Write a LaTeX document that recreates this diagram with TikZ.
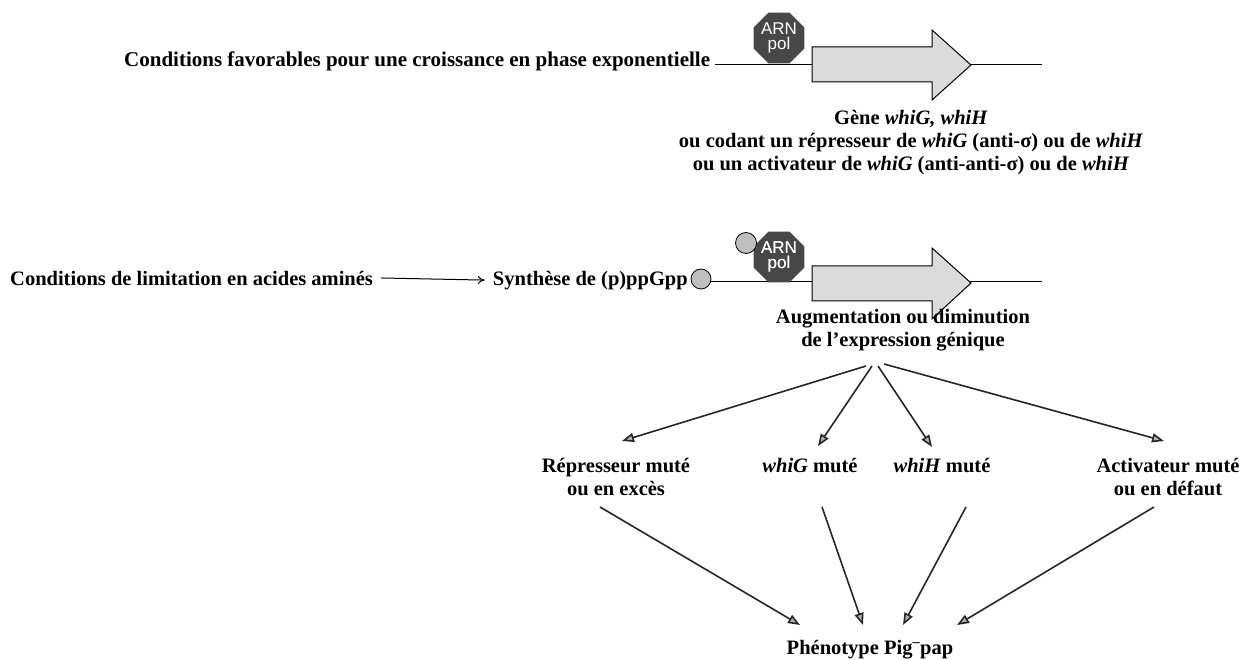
\documentclass[tikz,border=0pt]{standalone}
\usepackage{fontspec}
\setmainfont{Liberation Serif}
\newfontfamily\arialfont{Liberation Sans}
\usetikzlibrary{shapes.geometric,arrows.meta,calc}
\begin{document}
\begin{tikzpicture}[x=1pt,y=-1pt,
  lbl/.style={font=\fontsize{20.5}{23}\selectfont\bfseries, inner sep=0pt, align=center},
  conn/.style={line width=1.6pt, draw=black!85, -{Triangle[length=12pt,width=9pt,fill=gray!60]}},
  thin/.style={line width=1pt, draw=black},
  pol/.style={regular polygon, regular polygon sides=8, fill=black!72, minimum size=54pt, inner sep=0pt, text=white, font=\arialfont\fontsize{17}{15}\selectfont, align=center},
  gene/.style={draw=black, line width=1pt, fill=gray!28},
  dot/.style={circle, draw=black, fill=gray!50, minimum size=20pt, inner sep=0pt, line width=0.8pt}
]
\useasboundingbox (0,0) rectangle (1242,660);

% ---------- row 1
\node[lbl, font=\fontsize{21}{23}\selectfont\bfseries, anchor=base west] (cond1) at (124,67) {Conditions favorables pour une croissance en phase exponentielle};
\coordinate (l1e) at (1042,65);
\draw[thin] ($(cond1.base east)+(5,-2)$) -- (l1e);
\draw[gene] (812,47) -- (932,47) -- (932,30) -- (971,65) -- (932,100) -- (932,82) -- (812,82) -- cycle;
\node[pol] (pol1) at (779,38) {ARN\\pol};
\node[lbl, anchor=north] (gene1) at (911,110) {Gène \textit{whiG, whiH}\\
ou codant un répresseur de \textit{whiG} (anti-σ) ou de \textit{whiH}\\
ou un activateur de \textit{whiG} (anti-anti-σ) ou de \textit{whiH}};

% ---------- row 2
\node[lbl, anchor=base west] (cond2) at (10,286) {Conditions de limitation en acides aminés};
\node[lbl, anchor=base east] (synth) at (688,286) {Synthèse de (p)ppGpp};
\coordinate (a1s) at ($(cond2.east)+(8,-1)$);
\coordinate (a1e) at ($(synth.west)+(-8,-1)$);
\draw[line width=1pt, -{To[length=7pt,width=8pt]}] (a1s) -- (a1e);
\node[dot] (ppg) at (701,279) {};
\coordinate (l2e) at (1042,282);
\draw[thin] ($(ppg.east)+(0,3)$) -- (l2e);
\draw[gene] (812,266) -- (932,266) -- (932,248) -- (971,283) -- (932,319) -- (932,301) -- (812,301) -- cycle;
\node[pol] (pol2) at (779,257) {ARN\\pol};
\node[dot, minimum size=21pt] (ppg2) at (746,243) {};
\node[pol, fill=none] (pol2t) at (779,257) {ARN\\pol};

\node[lbl, anchor=north] (aug) at (903,309) {Augmentation ou diminution\\ de l'expression génique};

% ---------- mutants (two-line labels: base = last line)
\node[lbl, anchor=base] (rep) at (616,495) {Répresseur muté\\ ou en excès};
\node[lbl, anchor=base] (whig) at (810,472) {\textit{whiG} muté};
\node[lbl, anchor=base] (whih) at (942,472) {\textit{whiH} muté};
\node[lbl, anchor=base] (act) at (1168,495) {Activateur muté\\ ou en défaut};
\node[lbl, anchor=base] (pheno) at (870,654) {Phénotype Pig\textsuperscript{–}pap};

\draw[conn] (866,366) -- (622,441);
\draw[conn] (872,366) -- (818,446);
\draw[conn] (878,366) -- (932,447);
\draw[conn] (884,364) -- (1164,441);

\draw[conn] (600,507) -- (800,625);
\draw[conn] (822,507) -- (863,625);
\draw[conn] (966,507) -- (903,625);
\draw[conn] (1154,507) -- (957,625);
\end{tikzpicture}
\end{document}
